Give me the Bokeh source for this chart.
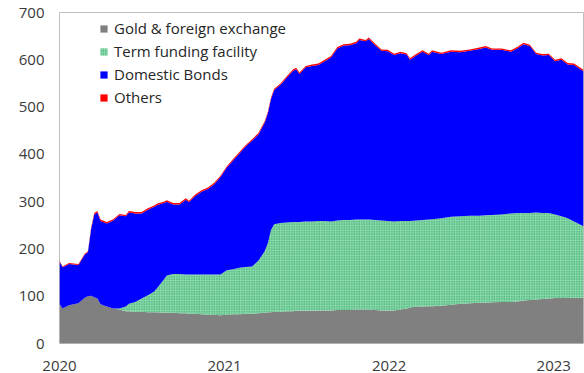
import pandas as pd
from bokeh.plotting import figure
from bokeh.models import ColumnDataSource, FixedTicker, DatetimeTickFormatter, Legend, LegendItem, Range1d
from bokeh.transform import stack
from bokeh.embed import file_html
from bokeh.resources import INLINE

dates = ["2020-01-01", "2020-01-08", "2020-01-22", "2020-02-12", "2020-02-26", "2020-03-04",
         "2020-03-11", "2020-03-18", "2020-03-25", "2020-04-01", "2020-04-15", "2020-04-29",
         "2020-05-13", "2020-05-27", "2020-06-03", "2020-06-17", "2020-07-01", "2020-07-15",
         "2020-07-29", "2020-08-05", "2020-08-19", "2020-08-26", "2020-09-09", "2020-09-23",
         "2020-10-07", "2020-10-14", "2020-10-28", "2020-11-11", "2020-11-25", "2020-12-09",
         "2020-12-23", "2021-01-06", "2021-01-20", "2021-02-03", "2021-02-17", "2021-03-03",
         "2021-03-17", "2021-03-31", "2021-04-07", "2021-04-14", "2021-04-21", "2021-05-05",
         "2021-05-19", "2021-06-02", "2021-06-09", "2021-06-16", "2021-06-30", "2021-07-14",
         "2021-07-28", "2021-08-11", "2021-08-25", "2021-09-08", "2021-09-22", "2021-10-06",
         "2021-10-20", "2021-10-27", "2021-11-10", "2021-11-17", "2021-12-01", "2021-12-15",
         "2021-12-29", "2022-01-12", "2022-01-26", "2022-02-09", "2022-02-16", "2022-03-02",
         "2022-03-16", "2022-03-30", "2022-04-06", "2022-04-27", "2022-05-18", "2022-06-08",
         "2022-06-29", "2022-07-20", "2022-08-03", "2022-08-17", "2022-09-07", "2022-09-28",
         "2022-10-12", "2022-10-26", "2022-11-09", "2022-11-23", "2022-12-07", "2022-12-21",
         "2023-01-04", "2023-01-18", "2023-02-01", "2023-02-15", "2023-03-08"]

gold = [83, 74, 81, 85, 97, 100, 101, 98, 95, 83, 78, 74,
        72, 68, 68, 67, 67, 66, 66, 66, 65, 65, 65, 64,
        64, 63, 63, 62, 61, 61, 60, 61, 62, 62, 63, 63,
        64, 65, 66, 66, 67, 67, 68, 68, 69, 69, 69, 69,
        70, 70, 70, 71, 71, 71, 72, 72, 72, 72, 71, 70,
        70, 70, 72, 74, 76, 78, 78, 79, 79, 80, 82, 84,
        85, 86, 86, 87, 88, 88, 89, 91, 92, 93, 94, 95,
        96, 96, 96, 97, 97]

tff = [0, 0, 0, 0, 0, 0, 0, 0, 0, 0, 0, 0,
       2, 10, 16, 21, 28, 36, 44, 52, 70, 79, 82, 83,
       82, 83, 83, 84, 85, 85, 86, 94, 95, 98, 99, 100,
       111, 130, 146, 174, 185, 188, 188, 189, 188, 188, 189, 189,
       189, 189, 188, 189, 190, 190, 190, 190, 190, 190, 190, 190,
       189, 188, 187, 185, 183, 182, 183, 183, 184, 185, 186, 185,
       185, 184, 185, 185, 185, 187, 187, 185, 184, 184, 182, 181,
       177, 173, 169, 161, 151]

bonds = [90, 87, 87, 81, 91, 93, 140, 175, 182, 176, 176, 186,
         197, 191, 193, 187, 180, 181, 179, 175, 162, 156, 147, 147,
         158, 153, 166, 175, 181, 191, 206, 217, 230, 242, 255, 266,
         267, 272, 275, 277, 284, 292, 306, 320, 323, 313, 326, 329,
         330, 338, 347, 364, 369, 370, 373, 380, 377, 382, 370, 359,
         359, 352, 355, 352, 341, 349, 356, 348, 354, 347, 349, 347,
         349, 353, 355, 349, 348, 342, 348, 357, 353, 335, 333, 334,
         324, 331, 325, 331, 328]

others = [2, 2, 2, 2, 2, 2, 3, 3, 3, 3, 3, 3,
          3, 3, 3, 3, 3, 3, 3, 3, 3, 3, 3, 3,
          3, 3, 3, 3, 3, 3, 3, 3, 3, 3, 3, 3,
          3, 3, 3, 3, 3, 3, 3, 3, 3, 3, 3, 3,
          3, 3, 3, 3, 3, 3, 3, 3, 3, 3, 3, 3,
          3, 3, 3, 3, 3, 3, 3, 3, 3, 3, 3, 3,
          3, 3, 3, 3, 3, 3, 3, 3, 3, 3, 3, 3,
          3, 3, 3, 3, 3]

series_names = ["Gold & foreign exchange", "Term funding facility", "Domestic Bonds", "Others"]
year_ticks = ["2020-01-01", "2021-01-01", "2022-01-01", "2023-01-01"]
y_ticks = [0, 100, 200, 300, 400, 500, 600, 700]

FONT = "Open Sans"

src = ColumnDataSource(dict(date=pd.to_datetime(dates), gold=gold, tff=tff, bonds=bonds, others=others))

p = figure(width=584, height=373, x_axis_type="datetime", output_backend="svg",
           toolbar_location=None,
           x_range=Range1d(pd.Timestamp("2020-01-01"), pd.Timestamp("2023-03-08")),
           y_range=Range1d(0, 700))
p.min_border_left = 59
p.min_border_right = 1
p.min_border_top = 12
p.min_border_bottom = 10

r_gold = p.varea(x="date", y1=0, y2=stack("gold"), source=src, fill_color="#808080")
r_tff = p.varea(x="date", y1=stack("gold"), y2=stack("gold", "tff"), source=src,
                fill_color="#8ad8ab", hatch_pattern="dot", hatch_color="#1a9a50",
                hatch_scale=2.5, hatch_weight=1)
r_bonds = p.varea(x="date", y1=stack("gold", "tff"), y2=stack("gold", "tff", "bonds"), source=src,
                  fill_color="#0000ff")
r_oth = p.varea(x="date", y1=stack("gold", "tff", "bonds"), y2=stack("gold", "tff", "bonds", "others"),
                source=src, fill_color="#ff0000")

p.xgrid.visible = False
p.ygrid.visible = False
p.outline_line_color = "#c0c0c0"
p.outline_line_width = 1
p.background_fill_color = "white"
p.border_fill_color = "white"

for ax in (p.xaxis[0], p.yaxis[0]):
    ax.axis_line_color = None
    ax.major_tick_line_color = None
    ax.minor_tick_line_color = None
    ax.major_tick_out = 0
    ax.major_tick_in = 0
    ax.minor_tick_out = 0
    ax.major_label_text_font = FONT
    ax.major_label_text_font_size = "15px"
    ax.major_label_text_color = "#3a3a3a"

p.xaxis.ticker = FixedTicker(ticks=[pd.Timestamp(t).value / 1e6 for t in year_ticks])
p.xaxis.formatter = DatetimeTickFormatter(years="%Y", months="%Y", days="%Y", hours="%Y",
                                          minutes="%Y", seconds="%Y", milliseconds="%Y",
                                          microseconds="%Y", hourmin="%Y", minsec="%Y")
p.xaxis.major_label_standoff = 17
p.yaxis.ticker = FixedTicker(ticks=y_ticks)
p.yaxis.major_label_standoff = 15

legend = Legend(items=[LegendItem(label=series_names[0], renderers=[r_gold]),
                       LegendItem(label=series_names[1], renderers=[r_tff]),
                       LegendItem(label=series_names[2], renderers=[r_bonds]),
                       LegendItem(label=series_names[3], renderers=[r_oth])],
                location=(40, 236), padding=0, margin=0, spacing=3,
                glyph_width=9, glyph_height=9, label_height=20, label_standoff=6,
                label_text_font=FONT, label_text_font_size="15px", label_text_color="#262626",
                border_line_color=None, background_fill_alpha=0)
p.add_layout(legend, "center")

open("out.html", "w").write(file_html(p, INLINE))
